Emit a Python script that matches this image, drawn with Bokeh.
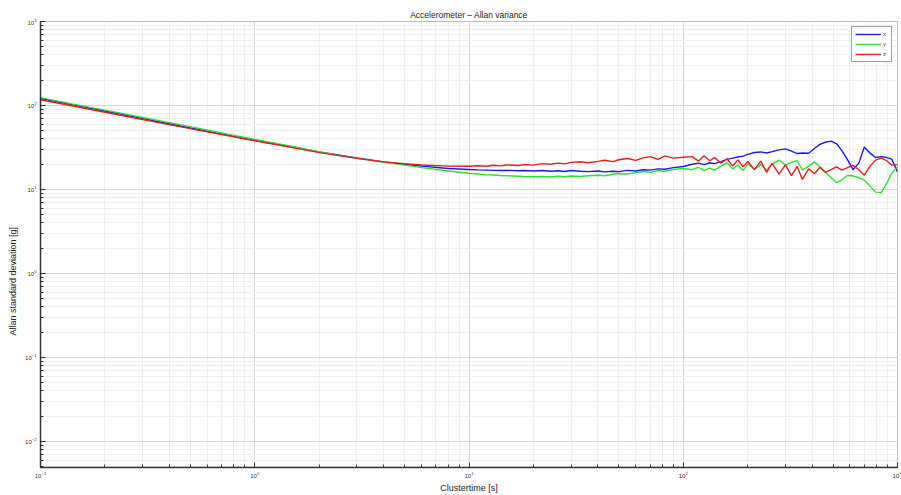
from bokeh.plotting import figure
from bokeh.models import Range1d, Legend, LegendItem, LogTicker, Title
from bokeh.embed import file_html
from bokeh.resources import INLINE

# cluster time [s]
tau = [0.1, 0.15, 0.2, 0.3, 0.5, 0.7, 1, 1.5, 2, 3, 4, 5, 6, 8, 10,
       11, 12, 13, 14, 15, 17, 18, 20, 22, 24, 26, 28, 30, 33, 36, 40, 43, 47, 50,
       55, 60, 65, 70, 76, 82, 90, 100,
       110, 118, 125, 133, 140, 150, 160, 170, 180, 190, 200, 215, 230, 245, 260,
       280, 300, 320, 340, 360, 385, 410, 435, 460, 490, 520, 550, 585, 620, 660,
       700, 740, 790, 840, 890, 940, 1000]

dev_x = [121, 99, 86, 70, 54, 46, 38.5, 32, 28, 23.8, 21.3, 20, 19, 17.8, 17.3,
         17.1, 17.0, 16.9, 16.8, 16.9, 16.7, 16.8, 16.6, 16.8, 16.5, 16.7, 16.4, 16.8,
         16.5, 16.3, 16.6, 16.2, 16.5, 16.3, 16.9, 16.6, 17.2, 17.0, 17.6, 17.4, 18.2, 18.8,
         20.0, 20.6, 19.8, 20.8, 20.3, 21.5, 22.8, 23.6, 24.4, 25.0, 26.2, 27.6, 28.0,
         27.2, 28.2, 29.6, 30.4, 28.6, 26.8, 27.2, 27.0, 31.0, 34.5, 36.5, 37.6, 35.0,
         29.0, 22.5, 17.2, 20.6, 32.0, 27.5, 24.0, 24.6, 24.0, 23.0, 16.2]

dev_y = [124, 101, 88, 72, 56, 47, 39.5, 32.5, 28, 23.5, 21, 19.5, 18.2, 16.6, 15.6,
         15.3, 15.0, 14.9, 14.7, 14.6, 14.4, 14.3, 14.2, 14.3, 14.1, 14.4, 14.2, 14.5,
         14.3, 14.6, 14.8, 14.6, 15.2, 15.5, 15.3, 15.9, 16.4, 16.0, 16.8, 16.5, 17.3, 17.8,
         17.2, 18.4, 16.8, 18.0, 17.0, 19.0, 20.8, 17.6, 19.6, 16.8, 20.2, 17.4, 19.8,
         17.0, 20.0, 22.4, 19.5, 21.0, 22.0, 17.0, 19.0, 21.3, 18.5, 16.2, 13.8, 12.0,
         13.0, 14.8, 14.5, 13.8, 12.9, 11.2, 9.3, 9.2, 11.8, 15.6, 18.6]

dev_z = [117, 96, 83, 68, 53, 45, 38, 31.5, 27.5, 23.5, 21.3, 20.3, 19.6, 19.0, 18.9,
         19.2, 18.9, 19.4, 19.1, 19.6, 19.3, 19.8, 19.5, 20.3, 20.0, 20.6, 20.2, 21.0,
         21.4, 20.8, 21.6, 22.3, 21.5, 22.6, 23.4, 22.2, 23.8, 24.6, 22.9, 25.0, 23.6, 24.2,
         24.6, 21.8, 25.2, 22.0, 24.0, 20.5, 23.2, 19.0, 22.5, 18.6, 21.5, 17.2, 21.8,
         16.0, 20.5, 15.2, 19.6, 14.6, 18.8, 13.2, 17.6, 15.4, 18.4, 16.0, 17.2, 18.6,
         17.0, 18.2, 19.4, 17.2, 14.8, 18.6, 22.4, 23.6, 22.0, 19.5, 19.8]

series_names = ["x", "y", "z"]
series_colors = ["#1a1ae6", "#33dd33", "#e81c1c"]

FONT = "Liberation Sans"

p = figure(width=901, height=495, x_axis_type="log", y_axis_type="log",
           x_range=Range1d(0.1, 1000), y_range=Range1d(0.0049, 1000),
           output_backend="svg", toolbar_location=None,
           title="Accelerometer \u2013 Allan variance")
p.min_border_left = 40
p.min_border_right = 4
p.min_border_top = 21
p.min_border_bottom = 27

p.title.align = "center"
p.title.text_font = FONT
p.title.text_font_size = "8.5px"
p.title.text_font_style = "normal"
p.title.text_color = "#222222"
p.title.standoff = 4

p.background_fill_color = "white"
p.outline_line_color = "#bdbdbd"

for ax in (p.xaxis[0], p.yaxis[0]):
    ax.ticker = LogTicker(num_minor_ticks=10)
    ax.axis_line_color = "#333333"
    ax.axis_line_width = 1.5
    ax.major_tick_in = 5
    ax.major_tick_out = 0
    ax.minor_tick_in = 3
    ax.minor_tick_out = 0
    ax.major_tick_line_color = "#333333"
    ax.minor_tick_line_color = "#333333"
    ax.major_label_text_font = FONT
    ax.major_label_text_font_size = "6px"
    ax.major_label_text_color = "#333333"
    ax.axis_label_text_font = FONT
    ax.axis_label_text_font_size = "9px"
    ax.axis_label_text_font_style = "normal"
    ax.axis_label_text_color = "#222222"
    ax.axis_label_standoff = 2
    ax.major_label_standoff = 4

p.xaxis.axis_label = "Clustertime [s]"

ytitle = Title(text="Allan standard deviation [g]", align="left", offset=132,
               text_font=FONT, text_font_size="9px", text_font_style="normal",
               text_color="#222222", standoff=9)
p.add_layout(ytitle, "left")

p.grid.grid_line_color = "#d4d4d4"
p.grid.grid_line_width = 1
p.grid.minor_grid_line_color = "#efefef"
p.grid.minor_grid_line_width = 1

vals = [dev_x, dev_y, dev_z]
items = []
for name, col, v in zip(series_names, series_colors, vals):
    r = p.line(tau, v, line_color=col, line_width=1.4)
    items.append(LegendItem(label=name, renderers=[r]))

legend = Legend(items=items, location="top_right")
legend.label_text_font = FONT
legend.label_text_font_size = "6px"
legend.label_height = 8
legend.label_width = 5
legend.glyph_height = 8
legend.glyph_width = 26
legend.label_standoff = 2
legend.spacing = 2
legend.padding = 3
legend.margin = 5
legend.border_line_color = "#444444"
legend.border_line_width = 1
p.add_layout(legend)

open("out.html", "w").write(file_html(p, INLINE))
